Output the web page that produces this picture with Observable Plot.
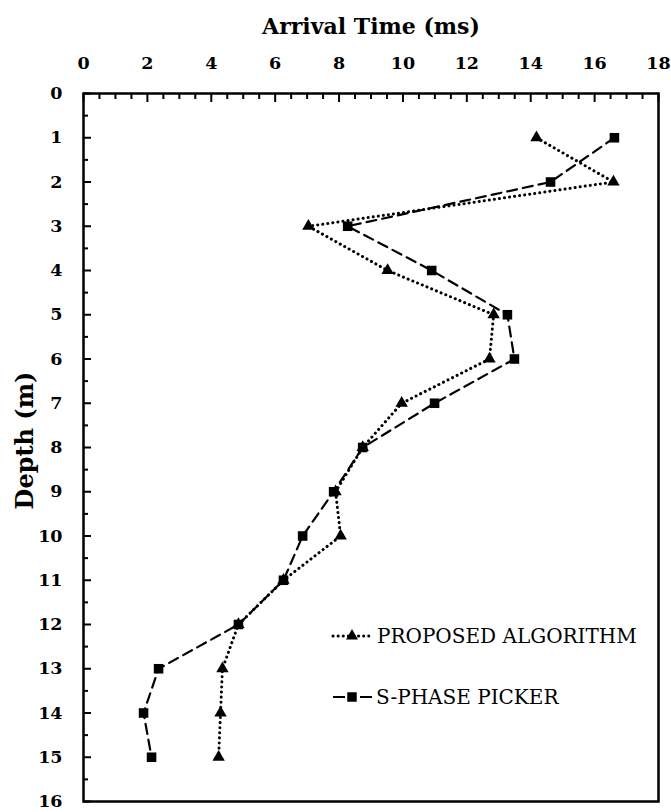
<!DOCTYPE html>
<html><head><meta charset="utf-8">
<script src="https://cdn.jsdelivr.net/npm/d3@7"></script>
<script src="https://cdn.jsdelivr.net/npm/@observablehq/plot@0.6"></script>
<style>body{margin:0;background:#fff}</style>
</head><body><div id="chart"></div>
<script>
const depths = [1,2,3,4,5,6,7,8,9,10,11,12,13,14,15];
const proposedTimes = [14.18,16.59,7.04,9.52,12.84,12.71,9.96,8.74,7.89,8.05,6.26,4.85,4.35,4.29,4.23];
const pickerTimes   = [16.62,14.62,8.27,10.90,13.27,13.49,10.99,8.74,7.83,6.86,6.26,4.85,2.35,1.88,2.13];
const seriesNames = ["PROPOSED ALGORITHM", "S-PHASE PICKER"];
const xTicks = [0,2,4,6,8,10,12,14,16,18];
const yTicks = [0,1,2,3,4,5,6,7,8,9,10,11,12,13,14,15,16];
const xTitle = "Arrival Time (ms)";
const yTitle = "Depth (m)";

const xMinor = d3.range(0, 18.001, 0.5).filter(v => v % 2 !== 0);
const yMinor = d3.range(0, 16.001, 0.5).filter(v => v % 1 !== 0);
const proposed = depths.map((d, i) => ({depth: d, time: proposedTimes[i]}));
const picker = depths.map((d, i) => ({depth: d, time: pickerTimes[i]}));

const font = "'DejaVu Serif', serif";
const plot = Plot.plot({
  width: 671, height: 812,
  marginLeft: 83, marginRight: 13, marginTop: 93, marginBottom: 11,
  style: {fontFamily: font, background: "white", color: "black", overflow: "visible"},
  x: {domain: [0, 18]},
  y: {domain: [0, 16], reverse: true},
  marks: [
    Plot.axisX({anchor: "top", ticks: xMinor, tickSize: -5, fill: "none", label: null, strokeWidth: 2}),
    Plot.axisX({anchor: "top", ticks: xTicks, tickSize: -8, tickPadding: 33, label: null, strokeWidth: 2,
      fontSize: 17.5, fontWeight: "bold", tickFormat: d => d}),
    Plot.axisY({anchor: "left", ticks: yMinor, tickSize: -5, fill: "none", label: null, strokeWidth: 2}),
    Plot.axisY({anchor: "left", ticks: yTicks, tickSize: -8, tickPadding: 29, label: null, strokeWidth: 2,
      fontSize: 17.5, fontWeight: "bold", tickFormat: d => d}),
    Plot.frame({strokeWidth: 2.5}),
    Plot.text([xTitle], {frameAnchor: "top", dy: -67, lineAnchor: "middle", textAnchor: "middle", fontSize: 22, fontWeight: "bold"}),
    Plot.text([yTitle], {frameAnchor: "left", dx: -58, dy: -7, rotate: -90, textAnchor: "middle", lineAnchor: "middle", fontSize: 24, fontWeight: "bold"}),
    Plot.line(proposed, {x: "time", y: "depth", stroke: "black", strokeWidth: 3, strokeDasharray: "0.1,5", strokeLinecap: "round"}),
    Plot.line(picker, {x: "time", y: "depth", stroke: "black", strokeWidth: 2.2, strokeDasharray: "10,6"}),
    Plot.dot(proposed, {x: "time", y: "depth", symbol: "triangle", r: 4.6, fill: "black"}),
    Plot.dot(picker, {x: "time", y: "depth", symbol: "square", r: 5.4, fill: "black"})
  ]
});
document.getElementById("chart").append(plot);

// legend inside plot area
const svg = d3.select(plot);
const lg = svg.append("g").style("font-family", font).style("font-size", "20px").style("font-weight", "normal");
const rows = [
  {y: 636, dash: "0.1,5", cap: "round", sw: 3, sym: d3.symbolTriangle, size: 62, tx: 377},
  {y: 697, dash: "12,15", cap: "butt", sw: 2.2, sym: d3.symbolSquare, size: 90, tx: 376}
];
rows.forEach((r, i) => {
  lg.append("line").attr("x1", 333).attr("x2", 372).attr("y1", r.y).attr("y2", r.y)
    .attr("stroke", "black").attr("stroke-width", r.sw).attr("stroke-dasharray", r.dash).attr("stroke-linecap", r.cap);
  lg.append("path").attr("d", d3.symbol(r.sym, r.size)()).attr("transform", `translate(352,${r.y})`).attr("fill", "black");
  lg.append("text").attr("x", r.tx).attr("y", r.y).attr("dy", "0.35em").style("text-anchor", "start")
    .style("font-family", font).text(seriesNames[i]);
});
</script>
</body></html>
